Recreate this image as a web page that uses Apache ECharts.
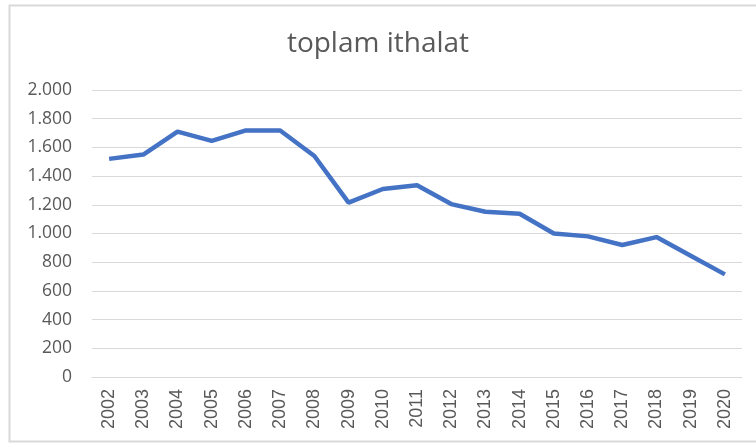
<!DOCTYPE html>
<html><head><meta charset="utf-8">
<script src="https://cdn.jsdelivr.net/npm/echarts@6/dist/echarts.min.js"></script>
<style>html,body{margin:0;padding:0;background:#fff}#c{width:756px;height:445px}</style>
</head><body><div id="c"></div>
<script>
const years = ['2002','2003','2004','2005','2006','2007','2008','2009','2010','2011','2012','2013','2014','2015','2016','2017','2018','2019','2020'];
const values = [1520,1550,1710,1645,1718,1718,1540,1215,1310,1336,1205,1152,1138,1000,980,920,975,845,715];
const title = 'toplam ithalat';
const chart = echarts.init(document.getElementById('c'));
const fmt = v => v >= 1000 ? Math.floor(v/1000) + '.' + String(v%1000).padStart(3,'0') : String(v);
chart.setOption({
  animation:false,
  graphic:[{type:'rect',shape:{x:9.5,y:5.5,width:760,height:436},style:{fill:'none',stroke:'#d9d9d9',lineWidth:2},z:-1}],
  title:{text:title,left:'center',top:25,textStyle:{fontFamily:'Open Sans',fontWeight:'normal',fontSize:28,color:'#595959'}},
  grid:{left:92,right:14,top:90,bottom:68},
  xAxis:{type:'category',data:years,boundaryGap:true,
    axisLine:{lineStyle:{color:'#d9d9d9',width:1}},axisTick:{show:false},
    axisLabel:{rotate:90,color:'#595959',fontFamily:'Liberation Sans',fontSize:18,margin:12}},
  yAxis:{type:'value',min:0,max:2000,interval:200,
    axisLine:{show:false},axisTick:{show:false},
    splitLine:{lineStyle:{color:'#d9d9d9',width:1}},
    axisLabel:{formatter:fmt,color:'#595959',fontFamily:'Open Sans',fontSize:17.5,margin:20}},
  series:[{type:'line',data:values,showSymbol:false,lineStyle:{color:'#4472C4',width:4.5},itemStyle:{color:'#4472C4'}}]
});
</script></body></html>
